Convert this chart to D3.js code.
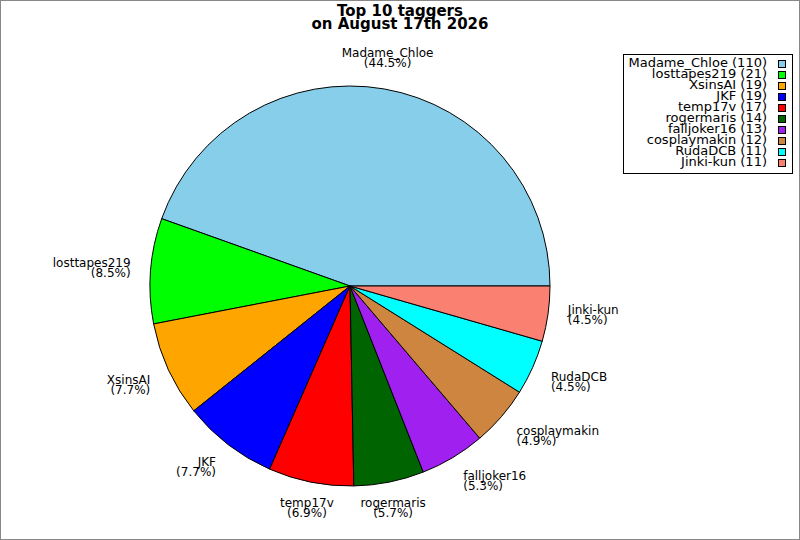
<!DOCTYPE html>
<html>
<head>
<meta charset="utf-8">
<script src="https://cdn.jsdelivr.net/npm/d3@7"></script>
<style>
  html, body { margin: 0; padding: 0; background: #fff; }
  svg { display: block; }
  text { font-family: "DejaVu Sans", sans-serif; }
</style>
</head>
<body>
<svg id="chart" width="800" height="540"></svg>
<script>
const titleLines = ["Top 10 taggers", "on August 17th 2026"];
const categories = ["Madame_Chloe", "losttapes219", "XsinsAI", "JKF", "temp17v", "rogermaris", "falljoker16", "cosplaymakin", "RudaDCB", "Jinki-kun"];
const counts = [110, 21, 19, 19, 17, 14, 13, 12, 11, 11];
const colors = ["#87CEEB", "#00FF00", "#FFA500", "#0000FF", "#FF0000", "#006400", "#A020F0", "#CD853F", "#00FFFF", "#FA8072"];

const W = 800, H = 540;
const cx = 350, cy = 286, R = 200, RL = 220;
const svg = d3.select("#chart");

// frame
svg.append("rect").attr("x", 0.5).attr("y", 0.5).attr("width", W - 1).attr("height", H - 1)
  .attr("fill", "#fff").attr("stroke", "#888").attr("stroke-width", 1);

// title
const title = svg.append("text").attr("text-anchor", "middle")
  .attr("font-size", 15).attr("font-weight", "bold").attr("fill", "#000");
titleLines.forEach((t, i) => {
  title.append("tspan").attr("x", 400).attr("y", 15.5 + i * 13.5).text(t);
});

const total = d3.sum(counts);
const data = categories.map((c, i) => ({ name: c, value: counts[i], color: colors[i] }));

const pie = d3.pie().value(d => d.value).sort(null)
  .startAngle(Math.PI / 2).endAngle(Math.PI / 2 - 2 * Math.PI);
const arcs = pie(data);
const arc = d3.arc().innerRadius(0).outerRadius(R);

const g = svg.append("g").attr("transform", `translate(${cx},${cy})`);
g.selectAll("path").data(arcs).enter().append("path")
  .attr("d", arc)
  .attr("fill", d => d.data.color)
  .attr("stroke", "#000").attr("stroke-width", 1).attr("stroke-linejoin", "round");

// labels
const fmt = d3.format(".1f");
arcs.forEach(a => {
  const mid = (a.startAngle + a.endAngle) / 2;
  const cosM = Math.sin(mid);   // horizontal component (right positive)
  const sinM = Math.cos(mid);   // vertical component (up positive)
  const ax = cx + RL * cosM;
  const ay = cy - RL * sinM;
  const anchor = cosM > 0.3 ? "start" : (cosM < -0.3 ? "end" : "middle");
  let b1;
  if (sinM > 0.3) b1 = ay - 12;
  else if (sinM < -0.3) b1 = ay + 5.7;
  else b1 = ay - 2.4;
  const t = svg.append("text").attr("text-anchor", anchor).attr("font-size", 12).attr("fill", "#000");
  t.append("tspan").attr("x", ax).attr("y", b1).text(a.data.name);
  t.append("tspan").attr("x", ax).attr("y", b1 + 9.7).text("(" + fmt(a.data.value / total * 100) + "%)");
});

// legend
const lg = svg.append("g");
lg.append("rect").attr("x", 623.5).attr("y", 54.5).attr("width", 169).attr("height", 119)
  .attr("fill", "#fff").attr("stroke", "#000").attr("stroke-width", 1);
data.forEach((d, i) => {
  lg.append("text").attr("x", 767).attr("y", 67.3 + i * 11)
    .attr("text-anchor", "end").attr("font-size", 13).attr("fill", "#000")
    .text(`${d.name} (${d.value})`);
  lg.append("rect").attr("x", 778.5).attr("y", 60.5 + i * 11).attr("width", 7).attr("height", 7)
    .attr("fill", d.color).attr("stroke", "#000").attr("stroke-width", 1);
});
</script>
</body>
</html>
